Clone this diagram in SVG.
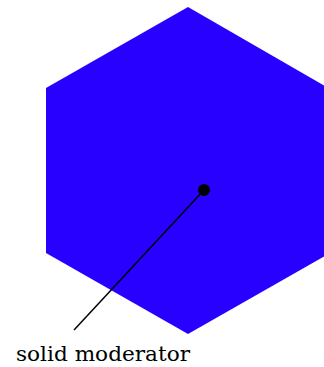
<svg xmlns="http://www.w3.org/2000/svg" width="324" height="367" viewBox="0 0 324 367">
<style>
.lbl{font-family:"DejaVu Serif","Liberation Serif",serif;font-size:21px;fill:#000}
</style>
<rect width="324" height="367" fill="#fff"/>
<g id="hexagon">
<polygon points="188,7 330,89 330,253 188,334 46,253 46,88" fill="#2800ff"/>
</g>
<g id="connectors">
<line x1="204" y1="190" x2="74" y2="330" stroke="#000" stroke-width="1.5"/>
<circle cx="204" cy="190" r="6" fill="#000"/>
</g>
<g id="label">
<text class="lbl" x="16" y="361" textLength="174" lengthAdjust="spacingAndGlyphs">solid moderator</text>
</g>
</svg>
